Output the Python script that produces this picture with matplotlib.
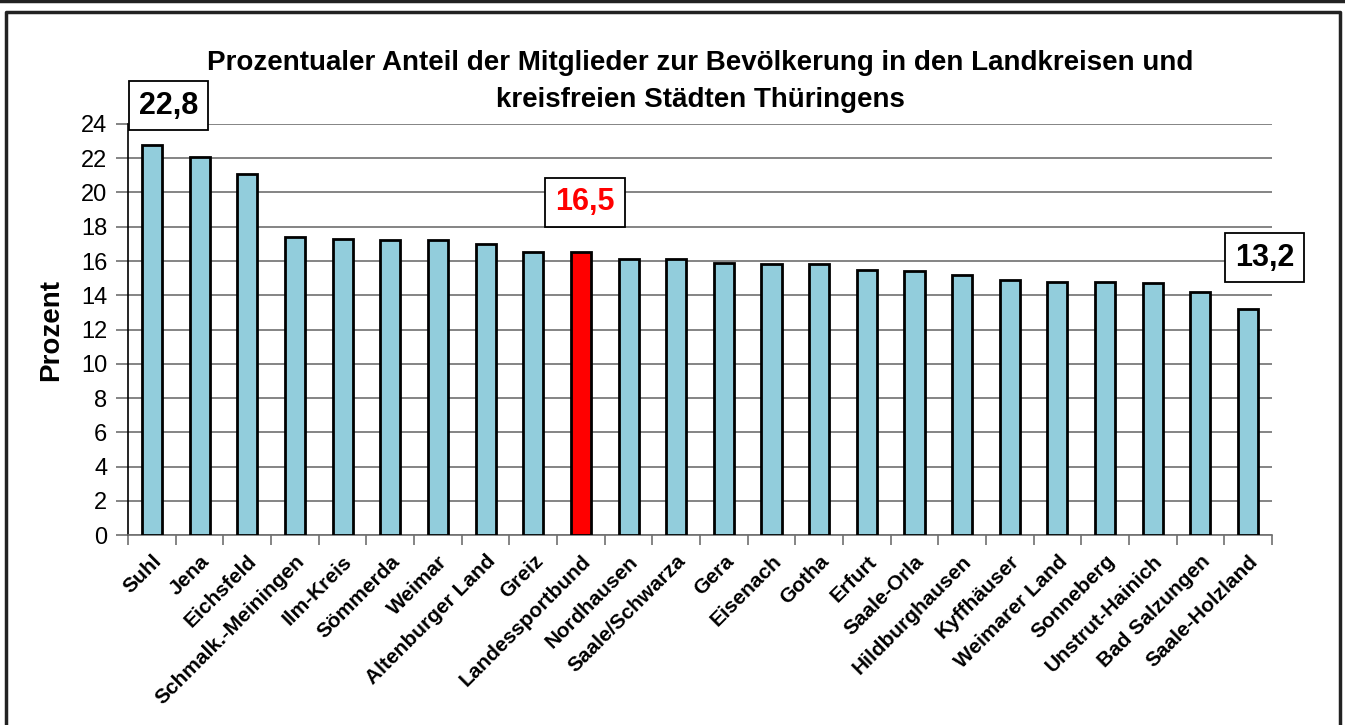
import matplotlib.pyplot as plt
from matplotlib.lines import Line2D

# Daten
kreise = ['Suhl', 'Jena', 'Eichsfeld', 'Schmalk.-Meiningen', 'Ilm-Kreis', 'Sömmerda',
          'Weimar', 'Altenburger Land', 'Greiz', 'Landessportbund', 'Nordhausen',
          'Saale/Schwarza', 'Gera', 'Eisenach', 'Gotha', 'Erfurt', 'Saale-Orla',
          'Hildburghausen', 'Kyffhäuser', 'Weimarer Land', 'Sonneberg',
          'Unstrut-Hainich', 'Bad Salzungen', 'Saale-Holzland']
prozent = [22.8, 22.1, 21.1, 17.4, 17.3, 17.2, 17.2, 17.0, 16.5, 16.5, 16.1,
           16.1, 15.9, 15.8, 15.8, 15.5, 15.4, 15.2, 14.9, 14.8, 14.8,
           14.7, 14.2, 13.2]
yticks = list(range(0, 25, 2))
highlight = 'Landessportbund'

plt.rcParams['font.family'] = ['Liberation Sans', 'DejaVu Sans']

fig = plt.figure(figsize=(13.45, 7.25), dpi=100)
ax = fig.add_axes([0.0952, 0.262, 0.8505, 0.567])

farben = ['#ff0000' if k == highlight else '#92cddc' for k in kreise]
x = range(len(kreise))
ax.bar(x, prozent, width=0.42, color=farben, edgecolor='black', linewidth=2, zorder=3)

ax.set_xlim(-0.5, len(kreise) - 0.5)
ax.set_ylim(0, 24)
ax.set_yticks(yticks)
ax.set_yticklabels([str(t) for t in yticks], fontsize=17)
ax.yaxis.grid(True, color='#707070', linewidth=1.2, zorder=0)
ax.tick_params(axis='y', length=9, width=1.2, color='#707070', pad=6)

# Kategorie-Ticks zwischen den Balken
ax.set_xticks([i - 0.5 for i in range(len(kreise) + 1)], minor=False)
ax.set_xticklabels([])
ax.set_xticks(list(x), minor=True)
ax.set_xticklabels(kreise, minor=True, rotation=45, ha='right', rotation_mode='anchor',
                   fontsize=15, fontweight='bold')
ax.tick_params(axis='x', which='major', length=7, width=1.2, color='#707070', direction='out')
ax.tick_params(axis='x', which='minor', length=0, pad=12)

for s in ['top', 'right']:
    ax.spines[s].set_visible(False)
ax.spines['left'].set_color('black')
ax.spines['left'].set_linewidth(1.2)
ax.spines['bottom'].set_color('#707070')
ax.spines['bottom'].set_linewidth(1.2)

ax.set_ylabel('Prozent', fontsize=20, fontweight='bold', labelpad=12)
ax.set_title('Prozentualer Anteil der Mitglieder zur Bevölkerung in den Landkreisen und\n'
             'kreisfreien Städten Thüringens', fontsize=20, fontweight='bold',
             linespacing=1.55, pad=12)

# Wertboxen
box = dict(boxstyle='square,pad=0.32', facecolor='white', edgecolor='black', linewidth=1.3)
marken = [(0, 'black', (12, 28)), (kreise.index(highlight), 'red', (3, 36)),
          (len(kreise) - 1, 'black', (12, 37))]
for i, col, off in marken:
    ax.annotate(f'{prozent[i]:.1f}'.replace('.', ','), xy=(i, prozent[i]),
                xytext=off, textcoords='offset points', ha='center', va='center',
                fontsize=22, fontweight='bold', color=col, bbox=box,
                annotation_clip=False, zorder=5)

# Rahmen
fig.add_artist(Line2D([0, 1], [0.998, 0.998], color='#222222', linewidth=2.5,
                      transform=fig.transFigure))
fig.add_artist(Line2D([0.0045, 0.0045, 0.9963, 0.9963], [0, 0.9835, 0.9835, 0],
                      color='#222222', linewidth=2.5, transform=fig.transFigure))

fig.savefig('out.png', dpi=100)
